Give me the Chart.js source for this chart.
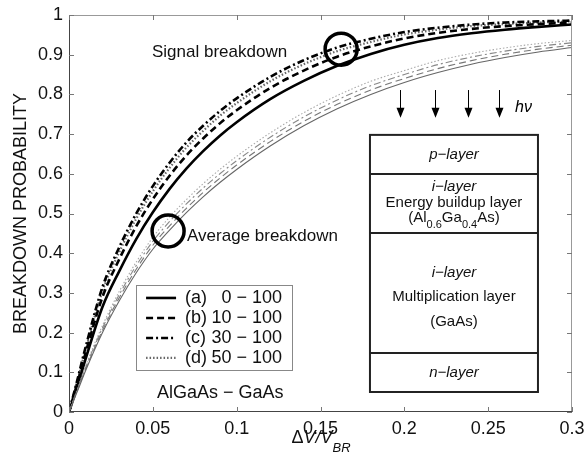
<!DOCTYPE html>
<html>
<head>
<meta charset="utf-8">
<script src="https://cdn.jsdelivr.net/npm/chart.js@4.4.0/dist/chart.umd.min.js"></script>
<style>
  html, body { margin: 0; padding: 0; background: #fff; }
</style>
</head>
<body>
<canvas id="chart" width="584" height="468"></canvas>
<script>
// x values (dV/V_BR)
var deltaV = [0, 0.005, 0.01, 0.02, 0.03, 0.04, 0.05, 0.06, 0.07, 0.08, 0.09, 0.1, 0.12, 0.14, 0.16, 0.18, 0.2, 0.22, 0.24, 0.26, 0.28, 0.3];

// signal breakdown (thick lines)
var signalA = [0, 0.065, 0.135, 0.265, 0.355, 0.435, 0.503, 0.562, 0.613, 0.657, 0.696, 0.73, 0.788, 0.834, 0.872, 0.902, 0.925, 0.942, 0.954, 0.963, 0.970, 0.976];
var signalB = [0, 0.073, 0.15, 0.29, 0.385, 0.467, 0.536, 0.595, 0.646, 0.689, 0.727, 0.76, 0.816, 0.86, 0.895, 0.921, 0.941, 0.955, 0.965, 0.972, 0.977, 0.981];
var signalC = [0, 0.081, 0.165, 0.315, 0.415, 0.499, 0.569, 0.628, 0.679, 0.721, 0.758, 0.79, 0.844, 0.886, 0.918, 0.94, 0.957, 0.968, 0.976, 0.981, 0.984, 0.986];
var signalD = [0, 0.078, 0.159, 0.305, 0.403, 0.486, 0.556, 0.615, 0.666, 0.708, 0.746, 0.778, 0.833, 0.876, 0.909, 0.932, 0.951, 0.963, 0.972, 0.977, 0.981, 0.984];

// average breakdown (thin lines)
var averageA = [0, 0.052, 0.105, 0.2, 0.28, 0.35, 0.41, 0.458, 0.502, 0.542, 0.578, 0.611, 0.67, 0.721, 0.764, 0.80, 0.83, 0.855, 0.876, 0.893, 0.907, 0.918];
var averageB = [0, 0.054, 0.109, 0.206, 0.288, 0.359, 0.42, 0.469, 0.513, 0.553, 0.589, 0.622, 0.681, 0.732, 0.775, 0.811, 0.84, 0.865, 0.885, 0.901, 0.914, 0.924];
var averageC = [0, 0.056, 0.113, 0.212, 0.296, 0.368, 0.43, 0.48, 0.524, 0.564, 0.6, 0.633, 0.692, 0.743, 0.786, 0.822, 0.85, 0.875, 0.894, 0.909, 0.921, 0.93];
var averageD = [0, 0.058, 0.117, 0.218, 0.304, 0.377, 0.44, 0.491, 0.535, 0.575, 0.611, 0.644, 0.703, 0.754, 0.797, 0.833, 0.86, 0.885, 0.903, 0.917, 0.928, 0.936];

var legendLabels = ["(a)", "(b)", "(c)", "(d)"];
var legendRanges = ["0 \u2212 100", "10 \u2212 100", "30 \u2212 100", "50 \u2212 100"];

var FONT = "'Liberation Sans', Arial, Helvetica, sans-serif";

function pts(ys) {
    return deltaV.map(function (x, i) { return { x: x, y: ys[i] }; });
}

function line(label, ys, color, width, dash) {
    return {
        label: label,
        data: pts(ys),
        borderColor: color,
        borderWidth: width,
        borderDash: dash,
        pointRadius: 0,
        fill: false,
        cubicInterpolationMode: "monotone",
    };
}

var datasets = [
    line("avg a", averageA, "#666", 1.1, []),
    line("avg b", averageB, "#777", 1.1, [7, 4]),
    line("avg c", averageC, "#888", 1.1, [7, 3, 2, 3]),
    line("avg d", averageD, "#aaa", 1.1, [1.5, 2]),
    line("(a)", signalA, "#000", 2.6, []),
    line("(b)", signalB, "#000", 2.6, [7, 4]),
    line("(c)", signalC, "#000", 2.6, [7, 3, 2, 3]),
    line("(d)", signalD, "#666", 2.2, [1.5, 2]),
];

var extras = {
    id: "extras",
    afterDatasetsDraw: function (chart) {
        var ctx = chart.ctx;
        var xs = chart.scales.x, ys = chart.scales.y;
        var ca = chart.chartArea;
        function px(v) { return xs.getPixelForValue(v); }
        function py(v) { return ys.getPixelForValue(v); }

        ctx.save();

        // frame + inward ticks
        ctx.lineWidth = 1;
        ctx.strokeStyle = "#999";
        ctx.beginPath();
        ctx.moveTo(ca.left, ca.top + 0.5); ctx.lineTo(ca.right, ca.top + 0.5);
        ctx.moveTo(ca.right - 0.5, ca.top); ctx.lineTo(ca.right - 0.5, ca.bottom);
        ctx.stroke();
        ctx.strokeStyle = "#444";
        ctx.beginPath();
        ctx.moveTo(ca.left + 0.5, ca.top); ctx.lineTo(ca.left + 0.5, ca.bottom);
        ctx.moveTo(ca.left, ca.bottom - 0.5); ctx.lineTo(ca.right, ca.bottom - 0.5);
        ctx.stroke();
        ctx.strokeStyle = "#777";
        ctx.beginPath();
        xs.ticks.forEach(function (t) {
            var x = Math.round(px(t.value)) + 0.5;
            ctx.moveTo(x, ca.bottom); ctx.lineTo(x, ca.bottom - 5);
            ctx.moveTo(x, ca.top); ctx.lineTo(x, ca.top + 5);
        });
        ys.ticks.forEach(function (t) {
            var y = Math.round(py(t.value)) + 0.5;
            ctx.moveTo(ca.left, y); ctx.lineTo(ca.left + 5, y);
            ctx.moveTo(ca.right, y); ctx.lineTo(ca.right - 5, y);
        });
        ctx.stroke();

        // circles
        ctx.strokeStyle = "#000";
        ctx.lineWidth = 3.5;
        ctx.beginPath();
        ctx.arc(px(0.1623), py(0.914), 16, 0, Math.PI * 2);
        ctx.stroke();
        ctx.beginPath();
        ctx.arc(px(0.0591), py(0.456), 16, 0, Math.PI * 2);
        ctx.stroke();

        ctx.fillStyle = "#111";
        ctx.textBaseline = "middle";
        ctx.textAlign = "left";
        ctx.font = "17px " + FONT;
        ctx.fillText("Signal breakdown", px(0.0495), py(0.907));
        ctx.fillText("Average breakdown", px(0.0704), py(0.443));
        ctx.font = "18px " + FONT;
        ctx.fillText("AlGaAs \u2212 GaAs", px(0.0525), py(0.048));

        // legend box
        var lx = px(0.04), lt = py(0.32), lr = px(0.133), lb = py(0.106);
        ctx.fillStyle = "#fff";
        ctx.fillRect(lx, lt, lr - lx, lb - lt);
        ctx.strokeStyle = "#888";
        ctx.lineWidth = 1;
        ctx.strokeRect(Math.round(lx) + 0.5, Math.round(lt) + 0.5, Math.round(lr - lx), Math.round(lb - lt));
        for (var i = 0; i < 4; i++) {
            var ds = datasets[4 + i];
            var ry = lt + 13 + i * 20;
            ctx.strokeStyle = ds.borderColor;
            ctx.lineWidth = ds.borderWidth;
            ctx.setLineDash(ds.borderDash);
            ctx.beginPath();
            ctx.moveTo(lx + 10, ry); ctx.lineTo(lx + 40, ry);
            ctx.stroke();
            ctx.setLineDash([]);
            ctx.fillStyle = "#111";
            ctx.font = "18px " + FONT;
            ctx.textAlign = "left";
            ctx.fillText(legendLabels[i], lx + 49, ry);
            ctx.textAlign = "right";
            ctx.fillText(legendRanges[i], lr - 10, ry);
        }

        // arrows (hv)
        ctx.strokeStyle = "#000";
        ctx.fillStyle = "#000";
        ctx.lineWidth = 1;
        [0.1974, 0.2183, 0.238, 0.2565].forEach(function (v) {
            var x = Math.round(px(v)) + 0.5, y0 = py(0.811), y1 = py(0.741);
            ctx.beginPath();
            ctx.moveTo(x, y0); ctx.lineTo(x, y1 - 8);
            ctx.stroke();
            ctx.beginPath();
            ctx.moveTo(x - 4, y1 - 10); ctx.lineTo(x + 4, y1 - 10); ctx.lineTo(x, y1);
            ctx.closePath();
            ctx.fill();
        });
        ctx.textAlign = "left";
        ctx.font = "italic 16px " + FONT;
        ctx.fillText("h\u03bd", px(0.266), py(0.768));

        // layer diagram
        var bl = px(0.1795), br = px(0.2797);
        var yTop = py(0.698), y1 = py(0.5995), y2 = py(0.451), y3 = py(0.1486), yBot = py(0.0504);
        ctx.fillStyle = "#fff";
        ctx.fillRect(bl, yTop, br - bl, yBot - yTop);
        ctx.strokeStyle = "#222";
        ctx.lineWidth = 2;
        ctx.strokeRect(bl, yTop, br - bl, yBot - yTop);
        ctx.beginPath();
        [y1, y2, y3].forEach(function (y) { ctx.moveTo(bl, y); ctx.lineTo(br, y); });
        ctx.stroke();

        var cx = (bl + br) / 2;
        ctx.fillStyle = "#111";
        ctx.textAlign = "center";
        ctx.font = "italic 15px " + FONT;
        ctx.fillText("p\u2212layer", cx, py(0.647));
        ctx.fillText("i\u2212layer", cx, py(0.567));
        ctx.fillText("i\u2212layer", cx, py(0.35));
        ctx.fillText("n\u2212layer", cx, py(0.098));
        ctx.font = "15px " + FONT;
        ctx.fillText("Energy buildup layer", cx, py(0.526));
        ctx.fillText("Multiplication layer", cx, py(0.29));
        ctx.fillText("(GaAs)", cx, py(0.227));

        // (Al0.6Ga0.4As) with subscripts
        var parts = [["(Al", 0], ["0.6", 1], ["Ga", 0], ["0.4", 1], ["As)", 0]];
        var big = "15px " + FONT, small = "11px " + FONT;
        var total = 0;
        parts.forEach(function (p) { ctx.font = p[1] ? small : big; total += ctx.measureText(p[0]).width; });
        var sx = cx - total / 2, sy = py(0.489);
        ctx.textAlign = "left";
        parts.forEach(function (p) {
            ctx.font = p[1] ? small : big;
            ctx.fillText(p[0], sx, p[1] ? sy + 7 : sy);
            sx += ctx.measureText(p[0]).width;
        });

        // x-axis title: dV/V_BR
        var tx = (ca.left + ca.right) / 2 - 29, ty = 438;
        ctx.font = "18px " + FONT;
        ctx.fillText("\u0394", tx, ty);
        tx += ctx.measureText("\u0394").width;
        ctx.font = "italic 18px " + FONT;
        ctx.fillText("V/V", tx, ty);
        tx += ctx.measureText("V/V").width;
        ctx.font = "italic 13px " + FONT;
        ctx.fillText("BR", tx, ty + 10);

        ctx.restore();
    },
};

function fmt(v) {
    return String(parseFloat(Number(v).toFixed(2)));
}

new Chart(document.getElementById("chart"), {
    type: "line",
    data: { datasets: datasets },
    options: {
        responsive: false,
        animation: false,
        layout: { padding: { top: 15, right: 12, left: 0, bottom: 0 } },
        plugins: {
            legend: { display: false },
            tooltip: { enabled: false },
        },
        scales: {
            x: {
                type: "linear",
                min: 0,
                max: 0.3,
                grid: { display: false, drawTicks: false },
                border: { display: false },
                ticks: {
                    stepSize: 0.05,
                    padding: 6,
                    color: "#111",
                    font: { family: FONT, size: 18 },
                    maxRotation: 0,
                    autoSkip: false,
                    callback: fmt,
                },
                afterFit: function (scale) {
                    scale.height = 56;
                    scale.paddingLeft = 0;
                    scale.paddingRight = 0;
                },
            },
            y: {
                min: 0,
                max: 1,
                grid: { display: false, drawTicks: false },
                border: { display: false },
                ticks: {
                    stepSize: 0.1,
                    padding: 6,
                    color: "#111",
                    font: { family: FONT, size: 18 },
                    autoSkip: false,
                    callback: fmt,
                },
                title: {
                    display: true,
                    text: "BREAKDOWN PROBABILITY",
                    color: "#111",
                    font: { family: FONT, size: 18 },
                    padding: { top: 10, bottom: 0 },
                },
                afterFit: function (scale) {
                    scale.width = 69;
                    scale.paddingTop = 0;
                    scale.paddingBottom = 0;
                },
            },
        },
    },
    plugins: [extras],
});
</script>
</body>
</html>
